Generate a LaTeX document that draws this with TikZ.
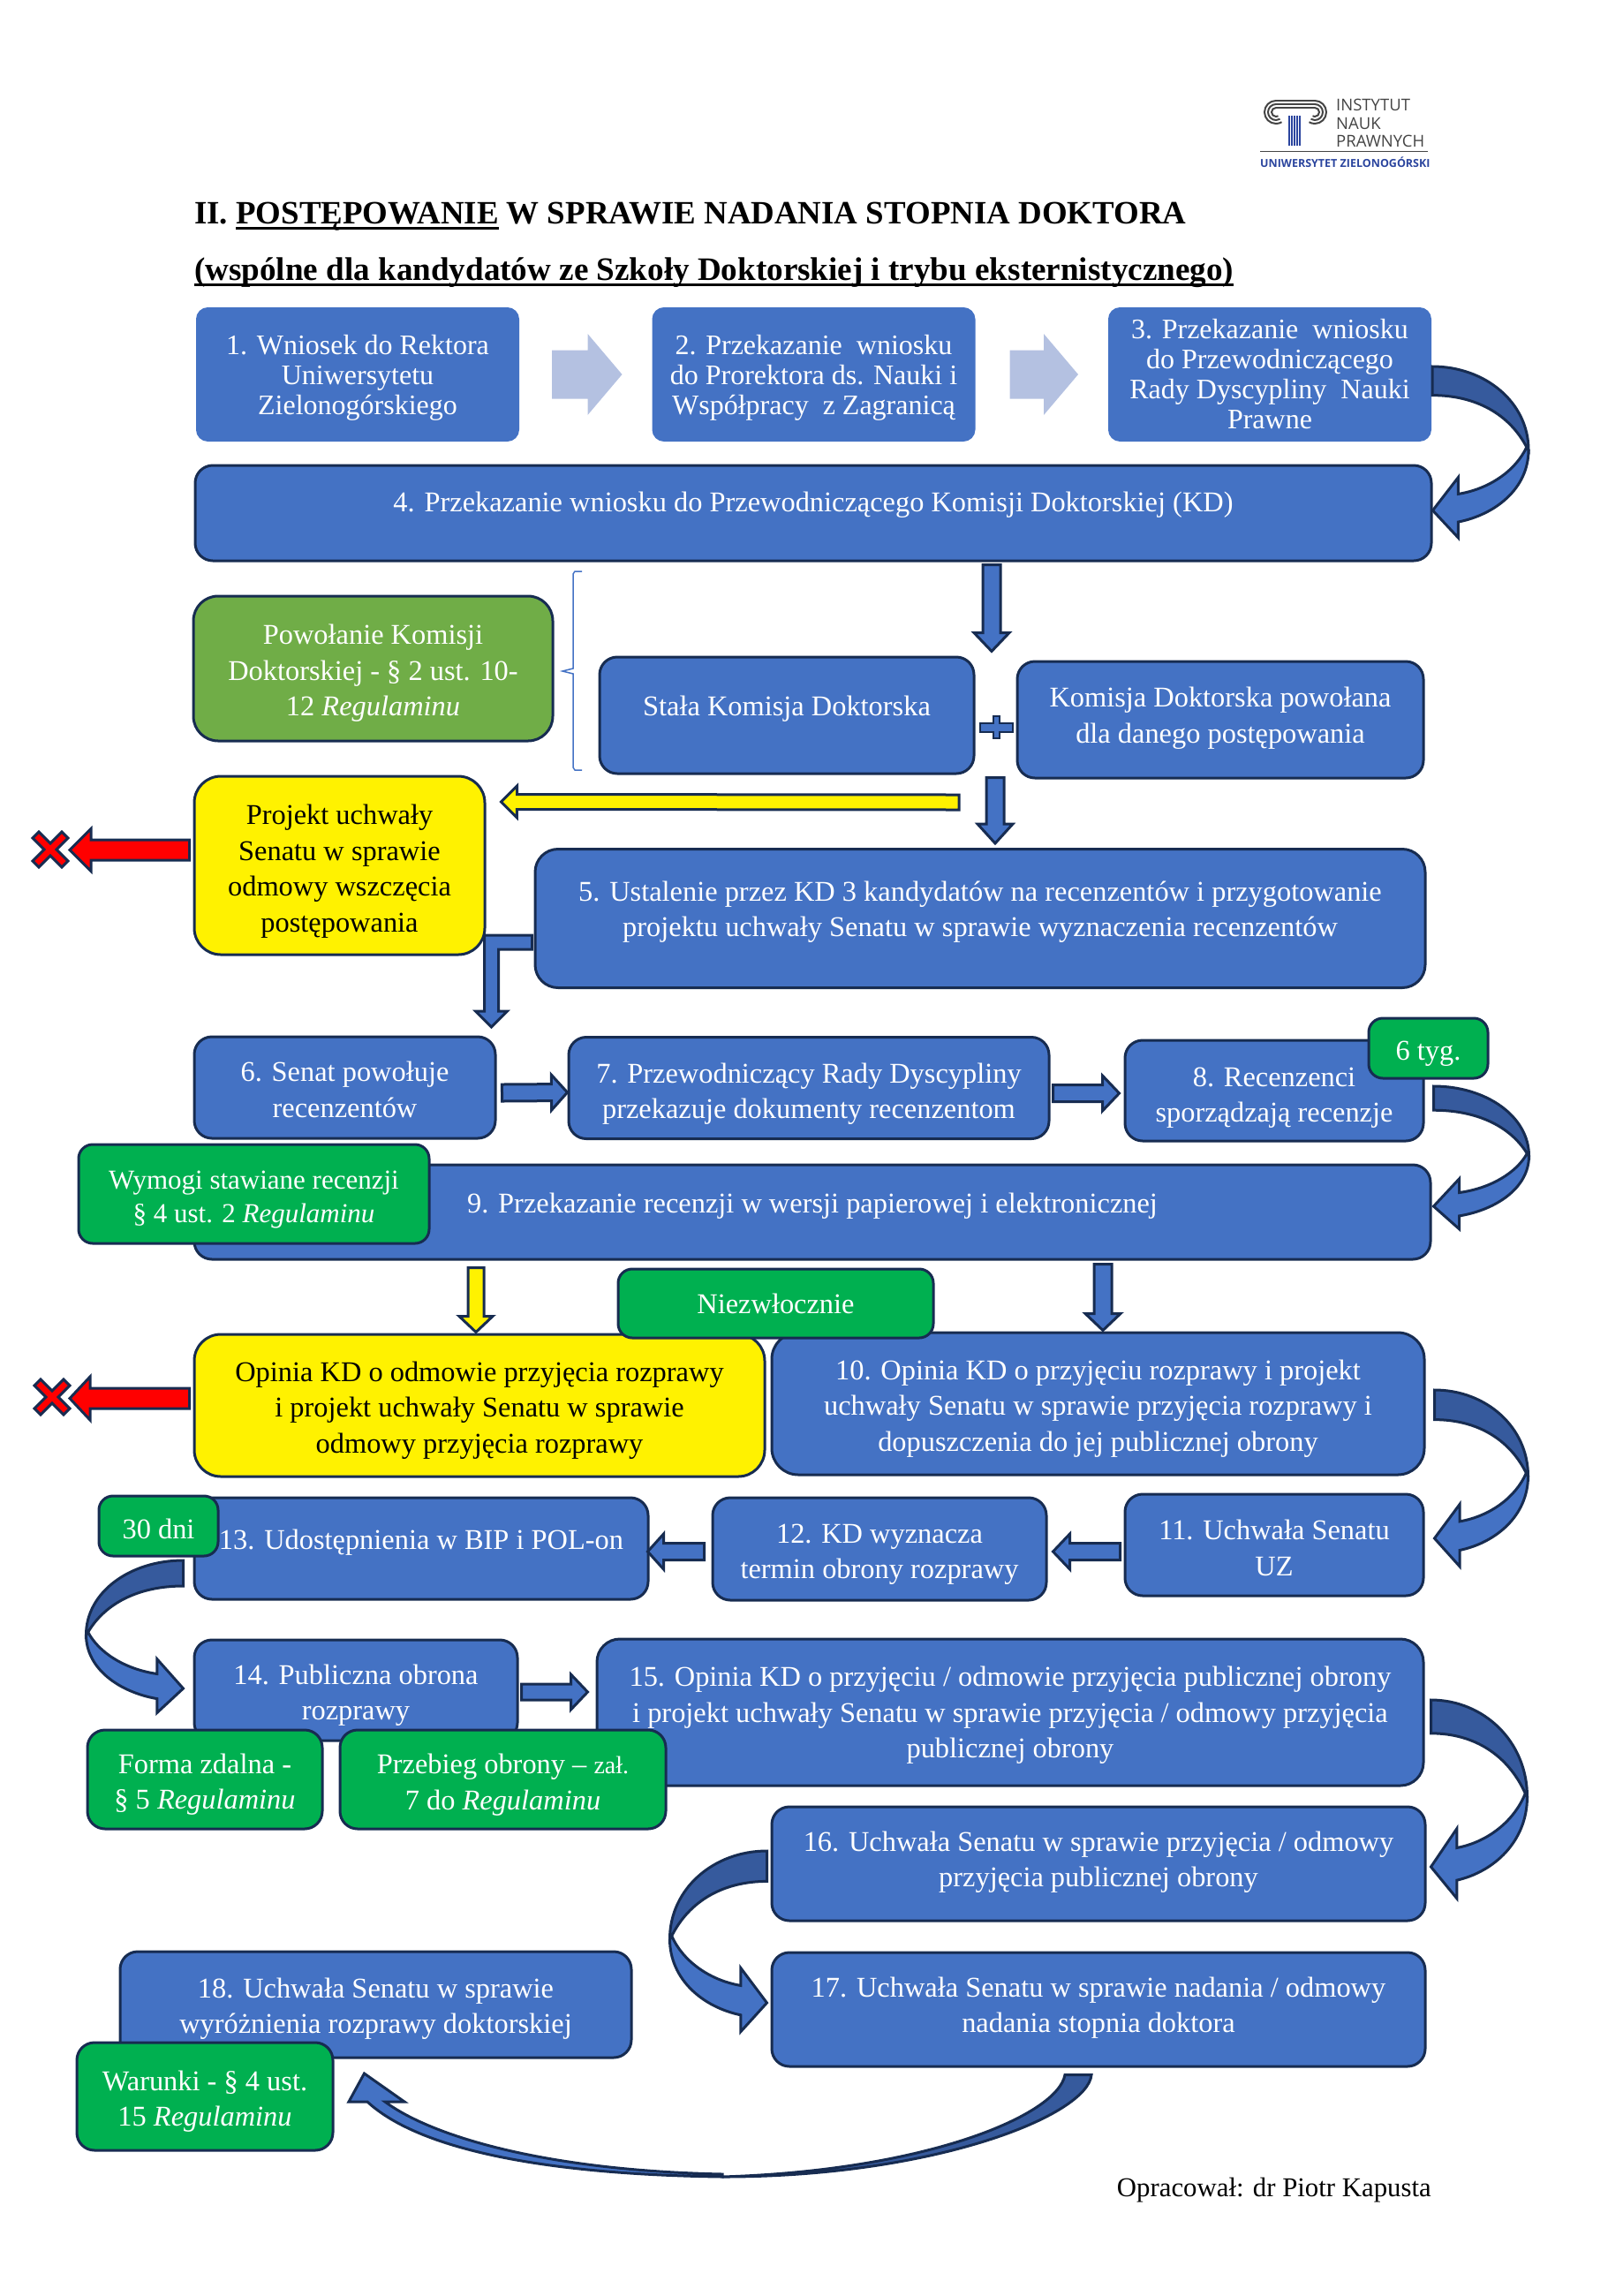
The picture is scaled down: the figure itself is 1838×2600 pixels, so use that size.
\documentclass[tikz,border=0pt]{standalone}
\usepackage{fontspec}
\setmainfont{Liberation Serif}
\newfontfamily\logofont{Open Sans}
\usetikzlibrary{calc}

\definecolor{blokkolor}{HTML}{4472C4}
\definecolor{ciemny}{HTML}{365A9D}
\definecolor{ramka}{HTML}{172C51}
\definecolor{blady}{HTML}{B4C1E1}
\definecolor{zielen}{HTML}{00B050}
\definecolor{oliwka}{HTML}{70AD47}
\definecolor{logoblue}{HTML}{2B459E}
\definecolor{logogray}{HTML}{444444}

\newcommand{\pod}[1]{\sbox0{#1}\rlap{\rule[-7pt]{\wd0}{3pt}}\box0\relax}
% pusty wiersz nad tekstem, spycha go nizej
\newcommand{\nad}[1]{\mbox{}\\[-#1pt]}

\tikzset{
  kafel/.style={draw=ramka, line width=3pt, fill=blokkolor, text=white, rounded corners=20pt,
    align=center, inner sep=0pt, font=\fontsize{32.4}{40.6}\selectfont},
  rozmiar/.style 2 args={minimum width=#1pt, minimum height=#2pt},
  gorny/.style={kafel, draw=blokkolor, rounded corners=12pt, font=\fontsize{32}{34}\selectfont},
  zolty/.style={kafel, fill=yellow, text=black, rounded corners=30pt},
  zielony/.style={kafel, fill=zielen, rounded corners=16pt},
  strzalka/.style n args={3}{to path={
    ($(\tikztostart)!#1pt!90:(\tikztotarget)$)
    -- ($($(\tikztotarget)!#2pt!(\tikztostart)$)!#1pt!90:(\tikztotarget)$)
    -- ($($(\tikztotarget)!#2pt!(\tikztostart)$)!#3pt!90:(\tikztotarget)$)
    -- (\tikztotarget)
    -- ($($(\tikztotarget)!#2pt!(\tikztostart)$)!#3pt!-90:(\tikztotarget)$)
    -- ($($(\tikztotarget)!#2pt!(\tikztostart)$)!#1pt!-90:(\tikztotarget)$)
    -- ($(\tikztostart)!#1pt!-90:(\tikztotarget)$) -- cycle}},
  obrys/.style={draw=ramka, line width=3pt, fill=#1},
  zakretgora/.style={obrys=ciemny, to path={
    let \p1=(\tikztostart), \p2=(\tikztotarget), \n1={#1*1pt}, \n2={\y2-\y1} in
    (\p1) .. controls ({\x1+.55*\n1},\y1) and ({\x1+\n1},{\y1+.25*\n2}) .. ({\x1+\n1},{\y1+.58*\n2})
    -- ({\x1+.98*\n1},{\y1+.56*\n2})
    .. controls ({\x1+.8*\n1},{\y1+.33*\n2}) and ({\x1+.45*\n1},{\y1+.2*\n2}) .. ({\x1},{\y1+.2*\n2}) -- cycle}},
  zakretdol/.style={obrys=blokkolor, to path={
    let \p1=(\tikztostart), \p2=(\tikztotarget), \n1={#1*1pt}, \n2={\y2-\y1} in
    ({\x1+.98*\n1},{\y1+.56*\n2})
    .. controls ({\x1+.87*\n1},{\y1+.72*\n2}) and ({\x1+.6*\n1},{\y1+.85*\n2}) .. ({\x1+.27*\n1},{\y1+.886*\n2})
    -- ({\x1+.27*\n1},{\y1+.77*\n2}) -- (\p2) -- ({\x1+.27*\n1},{\y1+1.19*\n2}) -- ({\x1+.27*\n1},{\y1+1.08*\n2})
    .. controls ({\x1+.65*\n1},{\y1+1.03*\n2}) and ({\x1+\n1},{\y1+.85*\n2}) .. ({\x1+\n1},{\y1+.58*\n2}) -- cycle}},
  krzyzyk/.pic={
    \draw [obrys=red] (-20,-13) -- (-13,-20) -- (0,-7) -- (13,-20) -- (20,-13) -- (7,0)
      -- (20,13) -- (13,20) -- (0,7) -- (-13,20) -- (-20,13) -- (-7,0) -- cycle;
  }
}

\begin{document}
\begin{tikzpicture}[x=1pt, y=-1pt]

  \useasboundingbox (0,0) rectangle (1838,2600);

  % logo
  \foreach \r in {5,9,13} {
    \draw [logogray, line width=2pt] (1445,127) ++(-90:\r) arc (-90:-300:\r);
    \draw [logogray, line width=2pt] (1489,127) ++(-90:\r) arc (-90:120:\r);
    \draw [logogray, line width=2pt] (1445,127) ++(-90:\r) -- (1489,{127-\r});
  }
  \foreach \x in {1460,1463,1466,1469,1472}
    \draw [logoblue, line width=1.6pt] (\x,131) -- (\x,165);
  \draw [logogray, line width=1pt] (1427,171) -- (1617,171);
  \node (logo1) [anchor=base west, inner sep=0pt, text=logogray, font=\logofont\fontsize{18.5}{20}\selectfont] at (1513,125) {INSTYTUT};
  \node (logo2) [anchor=base west, inner sep=0pt, text=logogray, font=\logofont\fontsize{18.5}{20}\selectfont] at (1513,146) {NAUK};
  \node (logo3) [anchor=base west, inner sep=0pt, text=logogray, font=\logofont\fontsize{18.5}{20}\selectfont] at (1513,166) {PRAWNYCH};
  \node (logo4) [anchor=base west, inner sep=0pt, text=logoblue, font=\logofont\bfseries\fontsize{12.5}{16}\selectfont] at (1427,189) {UNIWERSYTET ZIELONOGÓRSKI};

  % naglowek
  \node (tyt1) [anchor=base west, inner sep=0pt, font=\bfseries\fontsize{36.9}{44}\selectfont] at (220,253) {II. \pod{POSTĘPOWANIE} W SPRAWIE NADANIA STOPNIA DOKTORA};
  \node (tyt2) [anchor=base west, inner sep=0pt, font=\bfseries\fontsize{37.1}{44}\selectfont] at (220,317) {\pod{(wspólne dla kandydatów ze Szkoły Doktorskiej i trybu eksternistycznego)}};

  \node (b1) [gorny, rozmiar={363}{149}] at (405,424) {\nad{4}1. Wniosek do Rektora\\Uniwersytetu\\Zielonogórskiego};
  \node (b2) [gorny, rozmiar={363}{149}] at (921.5,424) {\nad{4}2. Przekazanie~ wniosku\\do Prorektora ds. Nauki i\\Współpracy~ z Zagranicą};
  \node (b3) [gorny, rozmiar={363}{149}] at (1438,424) {3. Przekazanie~ wniosku\\do Przewodniczącego\\Rady Dyscypliny~ Nauki\\Prawne};
  \node (b4) [kafel, rozmiar={1400}{108}] at (921,581) {4. Przekazanie wniosku do Przewodniczącego Komisji Doktorskiej (KD)\\[-16pt]\mbox{}};

  \node (pow) [kafel, fill=oliwka, rounded corners=28pt, rozmiar={407}{164}] at (422.5,757) {\nad{7}Powołanie Komisji\\Doktorskiej - § 2 ust. 10-\\12 \textit{Regulaminu}};
  \node (stala) [kafel, rozmiar={424}{132}] at (891,810) {Stała Komisja Doktorska\\[-20pt]\mbox{}};
  \node (kom) [kafel, rozmiar={460}{132}] at (1382,815) {Komisja Doktorska powołana\\dla danego postępowania\\[-30pt]\mbox{}};

  \node (proj) [zolty, rozmiar={329}{202}] at (384.5,980) {\nad{5}Projekt uchwały\\Senatu w sprawie\\odmowy wszczęcia\\postępowania};
  \node (b5) [kafel, rounded corners=26pt, rozmiar={1008}{157}] at (1110,1040) {5. Ustalenie przez KD 3 kandydatów na recenzentów i przygotowanie\\projektu uchwały Senatu w sprawie wyznaczenia recenzentów\\[-19pt]\mbox{}};

  \node (b6) [kafel, rozmiar={341}{115}] at (390.5,1231.5) {\nad{13}6. Senat powołuje\\recenzentów};
  \node (b7) [kafel, rozmiar={544}{115}] at (916,1232) {\nad{5}7. Przewodniczący Rady Dyscypliny\\przekazuje dokumenty recenzentom};
  \node (b8) [kafel, rozmiar={338}{114}] at (1443,1235) {\nad{3}8. Recenzenci\\sporządzają recenzje};
  \node (tyg) [zielony, rozmiar={135}{68}] at (1617.5,1187) {\nad{7}6 tyg.};

  \node (b9) [kafel, rozmiar={1400}{107}] at (920,1372.5) {9. Przekazanie recenzji w wersji papierowej i elektronicznej\\[-20pt]\mbox{}};
  \node (wym) [zielony, font=\fontsize{31}{38.5}\selectfont, rozmiar={397}{112}] at (287.5,1352) {\nad{5}Wymogi stawiane recenzji\\§ 4 ust. 2 \textit{Regulaminu}};

  \node (odm) [zolty, rozmiar={646}{161}] at (543,1591.5) {\nad{7}Opinia KD o odmowie przyjęcia rozprawy\\i projekt uchwały Senatu w sprawie\\odmowy przyjęcia rozprawy};
  \node (b10) [kafel, rounded corners=30pt, rozmiar={739}{161}] at (1243.5,1589.5) {\nad{7}10. Opinia KD o przyjęciu rozprawy i projekt\\uchwały Senatu w sprawie przyjęcia rozprawy i\\dopuszczenia do jej publicznej obrony};
  \node (niez) [zielony, rozmiar={357}{78}] at (878.5,1476) {Niezwłocznie};

  \node (b11) [kafel, rozmiar={338}{115}] at (1443,1749.5) {\nad{11}11. Uchwała Senatu\\UZ};
  \node (b12) [kafel, rozmiar={378}{116}] at (996,1754) {\nad{7}12. KD wyznacza\\termin obrony rozprawy};
  \node (b13) [kafel, rozmiar={514}{115}] at (477,1753.5) {13. Udostępnienia w BIP i POL-on\\[-20pt]\mbox{}};
  \node (dni) [zielony, rozmiar={135}{68}] at (179.5,1728) {\nad{11}30 dni};

  \node (b14) [kafel, rozmiar={366}{114}] at (403,1914) {\nad{7}14. Publiczna obrona\\rozprawy};
  \node (b15) [kafel, rounded corners=26pt, rozmiar={936}{166}] at (1144,1939) {\nad{11}15. Opinia KD o przyjęciu / odmowie przyjęcia publicznej obrony\\i projekt uchwały Senatu w sprawie przyjęcia / odmowy przyjęcia\\publicznej obrony};
  \node (zd) [zielony, rounded corners=20pt, rozmiar={266}{112}] at (232,2015) {\nad{7}Forma zdalna -\\§ 5 \textit{Regulaminu}};
  \node (prz) [zielony, rounded corners=20pt, rozmiar={369}{112}] at (569.5,2015) {\nad{6}Przebieg obrony -- {\fontsize{28}{34}\selectfont zał.}\\7 do \textit{Regulaminu}};

  \node (b16) [kafel, rozmiar={740}{129}] at (1244,2110.5) {16. Uchwała Senatu w sprawie przyjęcia / odmowy\\przyjęcia publicznej obrony\\[-30pt]\mbox{}};
  \node (b17) [kafel, rozmiar={740}{129}] at (1244,2275.5) {17. Uchwała Senatu w sprawie nadania / odmowy\\nadania stopnia doktora\\[-30pt]\mbox{}};
  \node (b18) [kafel, rozmiar={579}{120}] at (425.5,2270) {\nad{9}18. Uchwała Senatu w sprawie\\wyróżnienia rozprawy doktorskiej};
  \node (war) [zielony, rounded corners=20pt, rozmiar={290}{122}] at (232,2374) {\nad{7}Warunki - § 4 ust.\\15 \textit{Regulaminu}};

  \node (oprac) [anchor=base east, inner sep=0pt, font=\fontsize{30.8}{40}\selectfont] at (1621,2487) {Opracował: dr Piotr Kapusta};

  \coordinate (x1) at (57,962);
  \coordinate (x2) at (59,1582);
  \pic at (x1) {krzyzyk};
  \pic at (x2) {krzyzyk};

  % strzalki proste
  \path [fill=blady, strzalka={27.5}{39}{46}] ($(b1.east)+(37,0)$) to ($(b2.west)+(-34,0)$);
  \path [fill=blady, strzalka={27.5}{39}{46}] ($(b2.east)+(39,0)$) to ($(b3.west)+(-34,0)$);
  \draw [obrys=blokkolor, strzalka={10}{21}{20}] ($(b4.south)+(202,3)$) to ($(stala.north)+(232,-5)$);
  \draw [obrys=blokkolor, strzalka={10}{22}{20}] ($(stala.south)+(236,3)$) to ($(b5.north)+(17,-5)$);
  \draw [obrys=yellow, strzalka={8.5}{18}{18}] ($(stala.south)+(195,31)$) to ($(proj.east)+(17,-72)$);
  \draw [obrys=red, strzalka={11.5}{24}{24}] ($(proj.west)+(-4,-17.5)$) to ($(x1)+(22,0.5)$);
  \draw [obrys=red, strzalka={11.5}{23}{24.5}] ($(odm.west)+(-4,-8)$) to ($(x2)+(20,1.5)$);
  \draw [obrys=blokkolor, strzalka={9.5}{18}{20}] ($(b6.east)+(6,6)$) to ($(b7.west)+(0,5)$);
  \draw [obrys=blokkolor, strzalka={9.5}{19}{20}] ($(b7.east)+(3,6)$) to ($(b8.west)+(-5,3)$);
  \draw [obrys=yellow, strzalka={9}{18}{19}] ($(b9.south)+(-381,8)$) to ($(odm.north)+(-4,-1)$);
  \draw [obrys=blokkolor, strzalka={10}{19}{20}] ($(b9.south)+(329,4)$) to ($(b10.north)+(5.5,-1)$);
  \draw [obrys=blokkolor, strzalka={9.5}{19}{20}] ($(b11.west)+(-4,7.5)$) to ($(b12.east)+(6,3)$);
  \draw [obrys=blokkolor, strzalka={9.5}{18}{20}] ($(b12.west)+(-8,3)$) to ($(b13.east)+(-2,3.5)$);
  \draw [obrys=blokkolor, strzalka={9}{19}{20}] ($(b14.east)+(3,2)$) to ($(b15.west)+(-9,-23)$);

  % strzalka z b5 do b6, lamana
  \draw [obrys=blokkolor] ($(b5.west)+(-2,19)$) -- ++(-54,0) -- ++(0,86) -- ++(-10,0) -- ++(18,18)
    -- ++(18,-18) -- ++(-10,0) -- ++(0,-70) -- ++(38,0) -- cycle;

  % plus miedzy komisjami
  \draw [obrys=blokkolor, line width=2pt] (1125,819) -- (1125,811) -- (1132,811) -- (1132,819) -- (1147,819) -- (1147,829)
    -- (1132,829) -- (1132,836) -- (1125,836) -- (1125,829) -- (1110,829) -- (1110,819) -- cycle;

  % klamra
  \draw [blokkolor, line width=1.5pt] (659,647) -- (651,647) -- (649,650) -- (649,757) -- (637,760)
    -- (649,763) -- (649,869) -- (651,872) -- (659,872);

  % strzalki zakrecone
  \draw [zakretdol=109] ($(b3.east)+(1,-9)$) to ($(b4.east)+(0,-3)$);
  \draw [zakretgora=109] ($(b3.east)+(1,-9)$) to ($(b4.east)+(0,-3)$);
  \draw [zakretdol=108] ($(b8.east)+(10,-5)$) to ($(b9.east)+(2,-6.5)$);
  \draw [zakretgora=108] ($(b8.east)+(10,-5)$) to ($(b9.east)+(2,-6.5)$);
  \draw [zakretdol=106] ($(b10.east)+(10,-15.5)$) to ($(b11.east)+(11,-7.5)$);
  \draw [zakretgora=106] ($(b10.east)+(10,-15.5)$) to ($(b11.east)+(11,-7.5)$);
  \draw [zakretdol=-110] ($(b13.west)+(-11,13.5)$) to ($(b14.west)+(-11,-2)$);
  \draw [zakretgora=-110] ($(b13.west)+(-11,13.5)$) to ($(b14.west)+(-11,-2)$);
  \draw [zakretdol=109] ($(b15.east)+(7,-14)$) to ($(b16.east)+(5,3.5)$);
  \draw [zakretgora=109] ($(b15.east)+(7,-14)$) to ($(b16.east)+(5,3.5)$);
  \draw [zakretdol=-110] ($(b16.west)+(-4,-14.5)$) to ($(b17.west)+(-4,-7.5)$);
  \draw [zakretgora=-110] ($(b16.west)+(-4,-14.5)$) to ($(b17.west)+(-4,-7.5)$);

  % strzalka z b17 do b18, dolem
  \coordinate (s17) at ($(b17.south)+(-8,8)$);
  \coordinate (t18) at ($(war.east)+(34,-26)$);
  \draw [obrys=blokkolor] (818,2465) .. controls (600,2462) and (470,2430) .. (416,2380) -- (395,2380) -- (t18)
    -- (458,2380) -- (436,2380) .. controls (490,2420) and (620,2458) .. (818,2462) -- cycle;
  \draw [obrys=ciemny] (s17) .. controls (1232,2395) and (1060,2465) .. (818,2465)
    .. controls (1050,2458) and (1198,2395) .. ($(s17)+(-30,0)$) -- cycle;

\end{tikzpicture}
\end{document}
